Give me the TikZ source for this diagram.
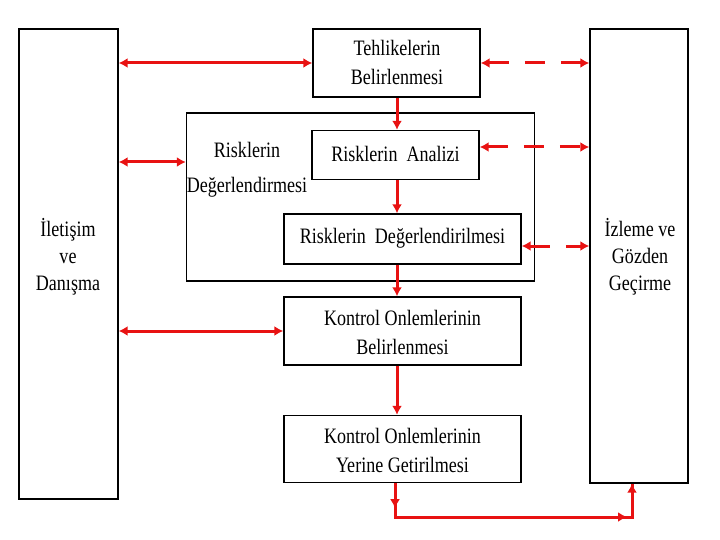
\documentclass[tikz,border=0pt]{standalone}
\usepackage{fontspec}
\usepackage{graphicx}
\setmainfont{Liberation Serif}
\usetikzlibrary{arrows.meta}
\definecolor{arrred}{RGB}{232,18,18}
\newcommand\sq[1]{\scalebox{0.82}[1]{#1}}
\begin{document}
\begin{tikzpicture}[x=1pt,y=-1pt,
  box/.style={draw,line width=1.4pt,inner sep=0pt},
  txt/.style={align=center,inner sep=0pt,font=\fontsize{22}{29}\selectfont},
  rl/.style={draw=arrred,line width=3pt},
  arr/.style={rl,-{Latex[length=9pt,width=10pt]}},
  arrb/.style={rl,{Latex[length=9pt,width=10pt]}-{Latex[length=9pt,width=10pt]}},
  dsh/.style={dash pattern=on 20pt off 16pt}]
\useasboundingbox (0,0) rectangle (720,540);
% boxes
\node[box,minimum width=99pt,minimum height=470pt] (ilet) at (68.5,264) {};
\node[box,minimum width=98pt,minimum height=454pt] (izl) at (639,256) {};
\node[box,minimum width=167pt,minimum height=68pt] (teh) at (396.5,63) {};
\node[box,minimum width=348pt,minimum height=168pt] (outer) at (360.5,197) {};
\node[box,minimum width=167pt,minimum height=49pt] (ana) at (395.5,155) {};
\node[box,minimum width=237pt,minimum height=50pt] (deg) at (402.5,239) {};
\node[box,minimum width=237pt,minimum height=68pt] (kob) at (402.5,331) {};
\node[box,minimum width=237pt,minimum height=67pt] (kyg) at (402.5,449) {};
% texts
\node[txt,font=\fontsize{22}{27}\selectfont] (tilet) at (68,257) {\sq{İletişim}\\\sq{ve}\\\sq{Danışma}};
\node[txt,font=\fontsize{22}{27}\selectfont] (tizl) at (640,257) {\sq{İzleme ve}\\\sq{Gözden}\\\sq{Geçirme}};
\node[txt] (tteh) at (397,62) {\sq{Tehlikelerin}\\\sq{Belirlenmesi}};
\node[txt,font=\fontsize{22}{35}\selectfont] (touter) at (247,170) {\sq{Risklerin}\\\sq{Değerlendirmesi}};
\node[txt] (tana) at (395.5,154) {\sq{Risklerin\ \ Analizi}};
\node[txt] (tdeg) at (402.5,238) {\sq{Risklerin\ \ Değerlendirilmesi}};
\node[txt] (tkob) at (402.5,332) {\sq{Kontrol Onlemlerinin}\\\sq{Belirlenmesi}};
\node[txt] (tkyg) at (402.5,450) {\sq{Kontrol Onlemlerinin}\\\sq{Yerine Getirilmesi}};
% helper coordinates
\coordinate (vx) at (397,0);
\coordinate (y1) at (0,162);
\coordinate (y2) at (0,147);
\coordinate (y3) at (0,246);
\coordinate (c1) at (395,517);
\coordinate (c2) at (632,517);
\coordinate (c3) at (627,517);
% horizontal arrows
\draw[arrb] (ilet.east |- teh) -- (teh.west);
\draw[arrb,dsh] (teh.east) -- (izl.west |- teh);
\draw[arrb] (ilet.east |- y1) -- (outer.west |- y1);
\draw[arrb,dsh] (ana.east |- y2) -- (izl.west |- y2);
\draw[arrb,dsh] (deg.east |- y3) -- (izl.west |- y3);
\draw[arrb] (ilet.east |- kob) -- (kob.west);
% vertical arrows
\draw[arr] (teh.south -| vx) -- (ana.north -| vx);
\draw[arr] (ana.south -| vx) -- (deg.north -| vx);
\draw[arr] (deg.south -| vx) -- (kob.north -| vx);
\draw[arr] (kob.south -| vx) -- (kyg.north -| vx);
% bottom path
\draw[rl,line join=miter] (kyg.south -| c1) -- (c1) -- (c2) -- (izl.south -| c2);
\draw[arr] (kyg.south -| c1) -- ++(0,25);
\draw[arr] (c1) -- (c3);
\draw[arr] (c2) -- (izl.south -| c2);
\end{tikzpicture}
\end{document}
